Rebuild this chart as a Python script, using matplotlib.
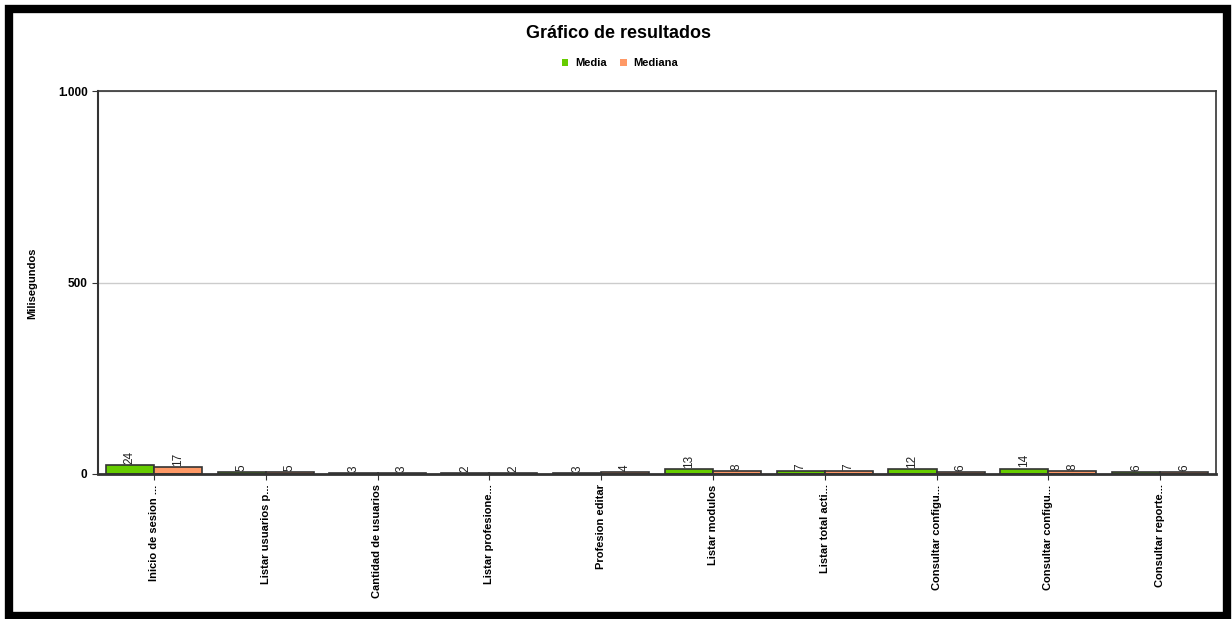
import numpy as np
import matplotlib.pyplot as plt
from matplotlib.patches import Rectangle

plt.rcParams['font.family'] = ['Liberation Sans', 'DejaVu Sans']

categorias = ["Inicio de sesion ...", "Listar usuarios p...", "Cantidad de usuarios",
              "Listar profesione...", "Profesion editar", "Listar modulos",
              "Listar total acti...", "Consultar configu...", "Consultar configu...",
              "Consultar reporte..."]
media = [24, 5, 3, 2, 3, 13, 7, 12, 14, 6]
mediana = [17, 5, 3, 2, 4, 8, 7, 6, 8, 6]
yticks = [0, 500, 1000]
ytick_labels = ["0", "500", "1.000"]

W, H = 1232, 619
fig = plt.figure(figsize=(W / 100, H / 100), dpi=100)
ax = fig.add_axes([98 / W, 1 - 474 / H, (1216 - 98) / W, (474 - 91) / H])

x = np.arange(len(categorias))
bw = 0.43
b1 = ax.bar(x - bw / 2, media, bw, color="#66cc00", edgecolor="#333333", linewidth=1.2, label="Media")
b2 = ax.bar(x + bw / 2, mediana, bw, color="#ff9966", edgecolor="#333333", linewidth=1.2, label="Mediana")

for bars in (b1, b2):
    for b in bars:
        ax.text(b.get_x() + b.get_width() / 2, b.get_height() + 3, str(int(b.get_height())),
                rotation=90, ha="center", va="bottom", fontsize=8.5, color="#222222")

ax.set_xlim(-0.5, len(categorias) - 0.5)
ax.set_ylim(0, 1000)
ax.set_yticks(yticks)
ax.set_yticklabels(ytick_labels, fontsize=8.5, fontweight="bold")
ax.set_xticks(x)
ax.set_xticklabels(categorias, rotation=90, fontsize=8, fontweight="bold")
ax.tick_params(axis="both", length=4, width=0.8, color="#333333")
ax.yaxis.grid(True, color="#cccccc", linewidth=1)
ax.set_axisbelow(True)
for s in ax.spines.values():
    s.set_color("#333333")
    s.set_linewidth(1.2)
ax.spines["left"].set_linewidth(1.5)
ax.spines["bottom"].set_linewidth(2)

fig.text(32 / W, 1 - 283 / H, "Milisegundos", rotation=90, ha="center", va="center",
         fontsize=8, fontweight="bold")
fig.text(619 / W, 1 - 33 / H, "Gráfico de resultados", ha="center", va="center",
         fontsize=13, fontweight="bold")

fig.legend(loc="center", bbox_to_anchor=(620 / W, 1 - 63 / H), ncol=2, frameon=False,
           prop={"size": 8, "weight": "bold"}, handlelength=0.6, handleheight=0.6,
           columnspacing=1.2, handletextpad=0.6)
for h in fig.legends[0].legend_handles:
    h.set_edgecolor("none")

fig.patches.append(Rectangle((8.5 / W, 3.5 / H), (1227 - 8.5) / W, (610 - 3.5) / H,
                             transform=fig.transFigure, fill=False, edgecolor="black",
                             linewidth=6, zorder=10))

fig.savefig("out.png", dpi=100)
